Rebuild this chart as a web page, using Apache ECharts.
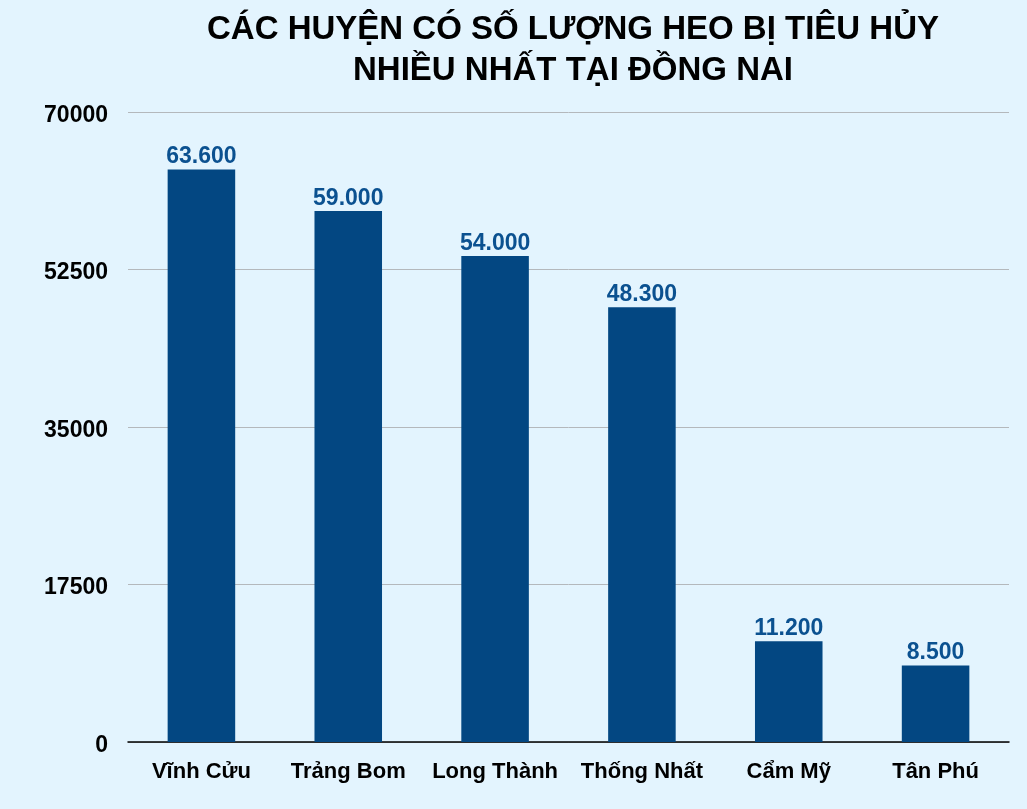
<!DOCTYPE html>
<html>
<head>
<meta charset="utf-8">
<script src="https://cdn.jsdelivr.net/npm/echarts@6/dist/echarts.min.js"></script>
<style>
html,body{margin:0;padding:0;background:#e3f4fe;}
#c{width:1027px;height:809px;}
</style>
</head>
<body>
<div id="c"></div>
<script>
const categories = ['Vĩnh Cửu', 'Trảng Bom', 'Long Thành', 'Thống Nhất', 'Cẩm Mỹ', 'Tân Phú'];
const values = [63600, 59000, 54000, 48300, 11200, 8500];
const yTicks = [0, 17500, 35000, 52500, 70000];

const chart = echarts.init(document.getElementById('c'));
const FONT = '"Liberation Sans", Arial, Helvetica, sans-serif';
chart.setOption({
  backgroundColor: '#e3f4fe',
  animation: false,
  title: {
    text: 'CÁC HUYỆN CÓ SỐ LƯỢNG HEO BỊ TIÊU HỦY\nNHIỀU NHẤT TẠI ĐỒNG NAI',
    left: 568,
    textAlign: 'center',
    top: 4,
    textStyle: {fontFamily: FONT, fontWeight: 'bold', fontSize: 33, color: '#000', lineHeight: 41}
  },
  grid: {left: 128, right: 18, top: 112, bottom: 67, containLabel: false},
  xAxis: {
    type: 'category',
    data: categories,
    axisLine: {lineStyle: {color: '#000', width: 1.5}},
    axisTick: {show: false},
    axisLabel: {interval: 0, fontFamily: FONT, fontWeight: 'bold', fontSize: 22, color: '#000', margin: 19}
  },
  yAxis: {
    type: 'value',
    min: yTicks[0],
    max: yTicks[yTicks.length - 1],
    interval: yTicks[1] - yTicks[0],
    axisLine: {show: false},
    axisTick: {show: false},
    splitLine: {lineStyle: {color: '#b4b8bc', width: 1}},
    axisLabel: {
      margin: 20,
      formatter: v => '{a|' + v + '}',
      rich: {a: {fontFamily: FONT, fontWeight: 'bold', fontSize: 23, color: '#000', padding: [7, 0, 0, 0]}}
    }
  },
  series: [{
    type: 'bar',
    data: values,
    barWidth: '46%',
    itemStyle: {color: '#034782'},
    label: {
      show: true,
      position: 'top',
      distance: 1,
      fontFamily: FONT,
      fontWeight: 'bold',
      fontSize: 23,
      color: '#0b5190',
      formatter: p => p.value.toLocaleString('en-US').replace(/,/g, '.')
    }
  }]
});
</script>
</body>
</html>
